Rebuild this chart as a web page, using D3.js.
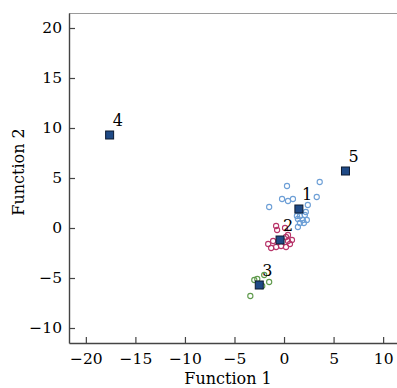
<!DOCTYPE html>
<html>
<head>
<meta charset="utf-8">
<script src="https://cdn.jsdelivr.net/npm/d3@7"></script>
<style>
  html, body { margin: 0; padding: 0; background: #fff; }
  svg { display: block; font-family: "DejaVu Serif", serif; }
</style>
</head>
<body>
<div id="chart"></div>
<script>
    "use strict";

    // group centroids (Function 1, Function 2)
    var centroidIds = ["1", "2", "3", "4", "5"];
    var centroidX = [1.5, -0.4, -2.5, -17.6, 6.2];
    var centroidY = [1.9, -1.2, -5.7, 9.3, 5.7];

    // group 1 cases (blue)
    var g1X = [0.3, 3.6, -0.2, 0.4, 0.9, -1.5, 3.3, 2.4, 1.6, 2.1, 1.4, 1.9, 2.3, 1.6, 2.0, 1.3, 2.2, 1.4];
    var g1Y = [4.2, 4.6, 2.9, 2.7, 2.9, 2.1, 3.1, 2.3, 1.2, 1.3, 0.9, 0.8, 0.8, 0.5, 0.5, 1.2, 1.6, 0.1];

    // group 2 cases (red)
    var g2X = [-0.8, -0.7, 0.1, 0.4, 0.8, 0.6, 0.2, -0.3, -0.8, -1.3, -1.6, -1.1, 0.4, 0.2];
    var g2Y = [0.2, -0.2, 0.0, -0.7, -1.2, -1.6, -1.9, -1.8, -1.9, -2.0, -1.6, -1.3, -1.3, -0.9];

    // group 3 cases (green)
    var g3X = [-3.0, -2.7, -1.5, -3.4, -2.2, -2.0];
    var g3Y = [-5.2, -5.1, -5.4, -6.8, -5.8, -4.7];

    var xTicks = [-20, -15, -10, -5, 0, 5, 10];
    var yTicks = [-10, -5, 0, 5, 10, 15, 20];

    (function () {
        var groups = [
            { xs: g1X, ys: g1Y, color: "#6d9fd6" },
            { xs: g2X, ys: g2Y, color: "#b8356a" },
            { xs: g3X, ys: g3Y, color: "#5f9a4c" }
        ];

        var width = 397, height = 388;
        var mLeft = 69, mRight = 397, mTop = 13, mBottom = 343;

        var svg = d3.select("#chart")
            .append("svg")
            .attr("width", width)
            .attr("height", height);

        var x = d3.scaleLinear().domain([-21.7, 11.4]).range([mLeft, mRight]);
        var y = d3.scaleLinear().domain([-11.5, 21.5]).range([mBottom, mTop]);

        function fmt(d) { return d < 0 ? "\u2212" + Math.abs(d) : String(d); }

        // top frame line
        svg.append("line")
            .attr("x1", mLeft).attr("x2", mRight)
            .attr("y1", mTop + 0.5).attr("y2", mTop + 0.5)
            .style("stroke", "#9a9a9a")
            .style("stroke-width", 1.2);

        // axes (ticks pointing inward)
        var xAxis = svg.append("g")
            .attr("transform", "translate(0," + mBottom + ")")
            .call(d3.axisBottom(x).tickValues(xTicks).tickFormat(fmt).tickSizeInner(-6).tickSizeOuter(0).tickPadding(10));

        var yAxis = svg.append("g")
            .attr("transform", "translate(" + mLeft + ",0)")
            .call(d3.axisLeft(y).tickValues(yTicks).tickFormat(fmt).tickSizeInner(-6).tickSizeOuter(0).tickPadding(7));

        [xAxis, yAxis].forEach(function (a) {
            a.select(".domain").style("stroke", "#444").style("stroke-width", 1.4);
            a.selectAll(".tick line").style("stroke", "#444").style("stroke-width", 1.2);
            a.selectAll("text")
                .style("font-family", "'DejaVu Serif', serif")
                .style("font-size", "15.5px")
                .style("fill", "#000");
        });
        xAxis.selectAll("text").attr("dy", "0.71em");

        // axis titles
        svg.append("text")
            .attr("x", 228).attr("y", 384)
            .attr("text-anchor", "middle")
            .style("font-size", "16px")
            .style("fill", "#000")
            .text("Function 1");

        svg.append("text")
            .attr("transform", "translate(24,172) rotate(-90)")
            .attr("text-anchor", "middle")
            .style("font-size", "16px")
            .style("fill", "#000")
            .text("Function 2");

        // case points
        groups.forEach(function (g) {
            svg.append("g").selectAll("circle")
                .data(g.xs)
                .enter()
                .append("circle")
                .attr("cx", function (d) { return x(d); })
                .attr("cy", function (d, i) { return y(g.ys[i]); })
                .attr("r", 2.6)
                .style("fill", "none")
                .style("stroke", g.color)
                .style("stroke-width", 1.1);
        });

        // centroids
        var sq = 8;
        svg.append("g").selectAll("rect")
            .data(centroidIds)
            .enter()
            .append("rect")
            .attr("x", function (d, i) { return x(centroidX[i]) - sq / 2; })
            .attr("y", function (d, i) { return y(centroidY[i]) - sq / 2; })
            .attr("width", sq)
            .attr("height", sq)
            .style("fill", "#1f4a86")
            .style("stroke", "#0d1a30")
            .style("stroke-width", 1);

        svg.append("g").selectAll("text")
            .data(centroidIds)
            .enter()
            .append("text")
            .attr("x", function (d, i) { return x(centroidX[i]) + 3; })
            .attr("y", function (d, i) { return y(centroidY[i]) - 9; })
            .style("font-size", "16px")
            .style("fill", "#000")
            .text(function (d) { return d; });
    })();
</script>
</body>
</html>
